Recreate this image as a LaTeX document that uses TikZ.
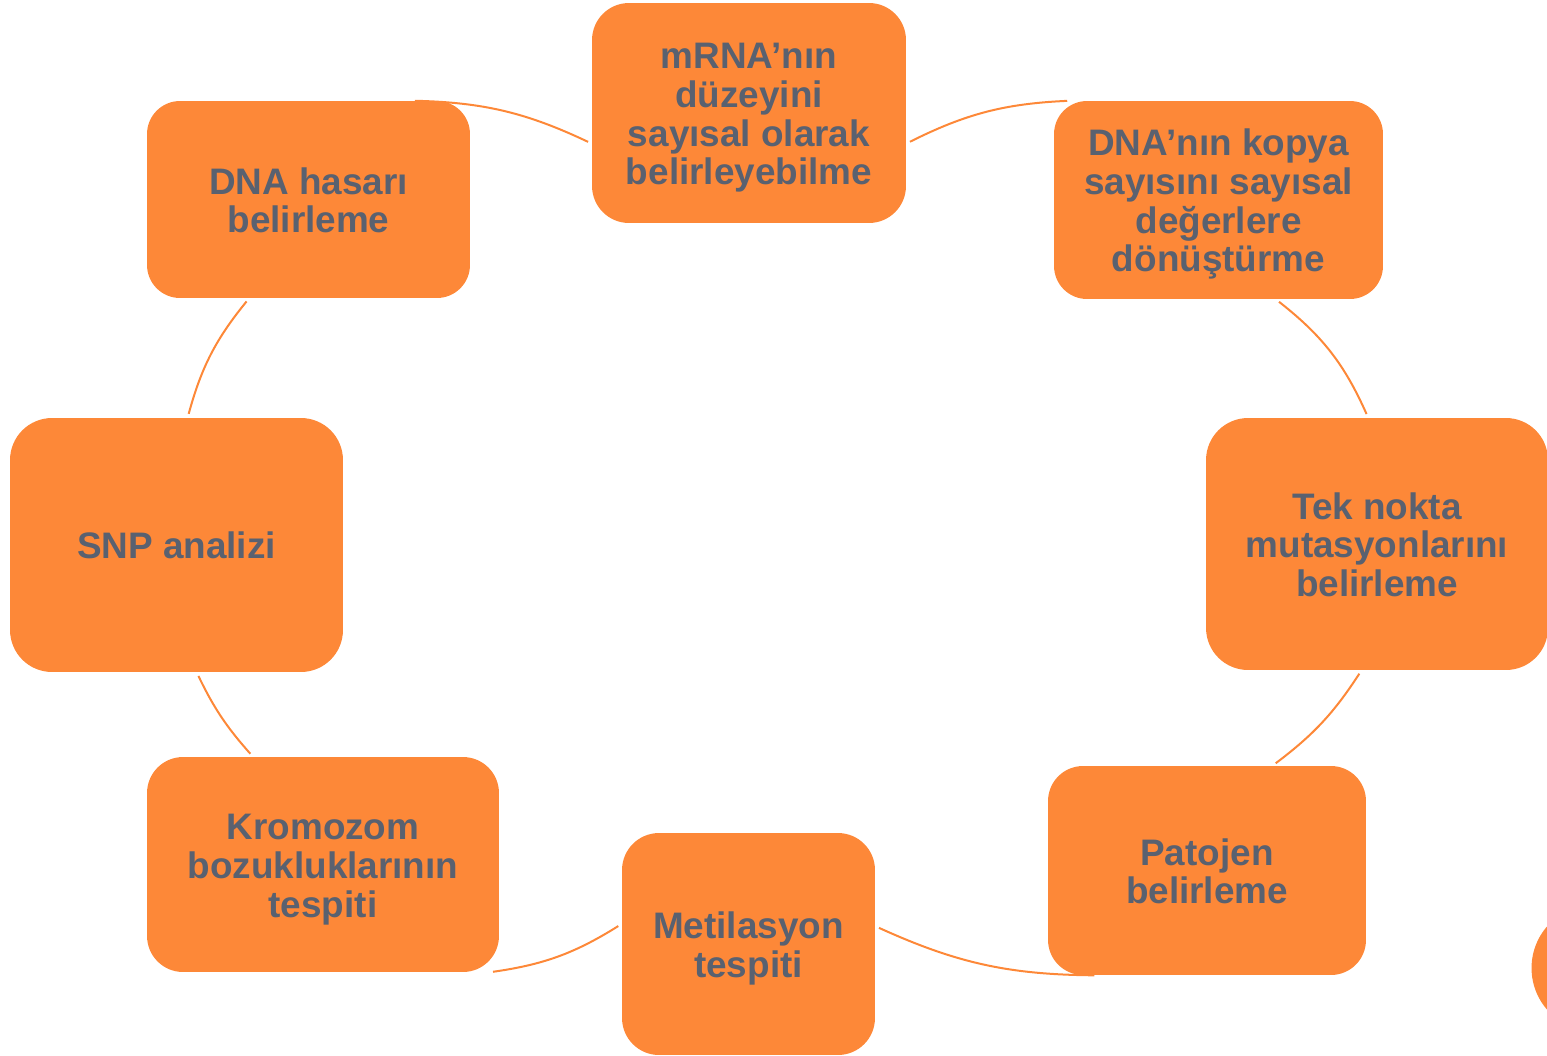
\documentclass[tikz,border=0pt]{standalone}
\usepackage{fontspec}
\setmainfont{Liberation Sans}
\definecolor{boxorange}{HTML}{FD8838}
\definecolor{boxtext}{HTML}{596170}
\newcommand\lnst{\rule[-5pt]{0pt}{25.9pt}}
\newcommand\lsfix{\lineskiplimit=-60pt\relax\lineskip=0pt\relax}
\begin{document}
\begin{tikzpicture}[x=0.02cm,y=-0.02cm,
  cbox/.style={fill=boxorange, draw=none, text=boxtext,
    font=\bfseries\fontsize{21}{22}\selectfont\lsfix, align=center, inner sep=0pt},
  conn/.style={draw=boxorange, line width=0.04cm, shorten >=0.08cm, shorten <=0.08cm}]
\useasboundingbox (0,0) rectangle (1547,1055);

\node[cbox, minimum width=6.28cm, minimum height=4.40cm, rounded corners=0.74cm] (n1) at (749,113)
  {\lnst mRNA’nın\\\lnst düzeyini\\\lnst sayısal olarak\\\lnst belirleyebilme};
\node[cbox, minimum width=6.58cm, minimum height=3.96cm, rounded corners=0.66cm] (n2) at (1218.5,200)
  {\lnst DNA’nın kopya\\\lnst sayısını sayısal\\\lnst değerlere\\\lnst dönüştürme};
\node[cbox, minimum width=6.84cm, minimum height=5.04cm, rounded corners=0.84cm] (n3) at (1377,544)
  {\lnst Tek nokta\\\lnst mutasyonlarını\\\lnst belirleme};
\node[cbox, minimum width=6.36cm, minimum height=4.18cm, rounded corners=0.70cm] (n4) at (1207,870.5)
  {\lnst Patojen\\\lnst belirleme};
\node[cbox, minimum width=5.06cm, minimum height=4.44cm, rounded corners=0.74cm] (n5) at (748.5,944)
  {\lnst Metilasyon\\\lnst tespiti};
\node[cbox, minimum width=7.04cm, minimum height=4.30cm, rounded corners=0.72cm] (n6) at (323,864.5)
  {\lnst Kromozom\\\lnst bozukluklarının\\\lnst tespiti};
\node[cbox, minimum width=6.66cm, minimum height=5.08cm, rounded corners=0.84cm] (n7) at (176.5,545)
  {\lnst SNP analizi};
\node[cbox, minimum width=6.46cm, minimum height=3.94cm, rounded corners=0.66cm] (n8) at (308.5,199.5)
  {\lnst DNA hasarı\\\lnst belirleme};

\draw[conn] (n8.44) to[bend left=12] (n1.191);
\draw[conn] (n1.349) to[bend left=12] (n2.146);
\draw[conn] (n2.300) to[bend left=14] (n3.94);
\draw[conn] (n3.263) to[bend left=10] (n4.58);
\draw[conn] (n4.224) to[bend left=12] (n5.8);
\draw[conn] (n5.171) to[bend left=12] (n6.-33);
\draw[conn] (n6.123) to[bend left=8] (n7.279);
\draw[conn] (n7.85) to[bend left=12] (n8.239);

\begin{scope}
  \clip (0,0) rectangle (1547,1055);
  \fill[boxorange] (1595,968) circle[radius=1.27cm];
\end{scope}
\end{tikzpicture}
\end{document}
